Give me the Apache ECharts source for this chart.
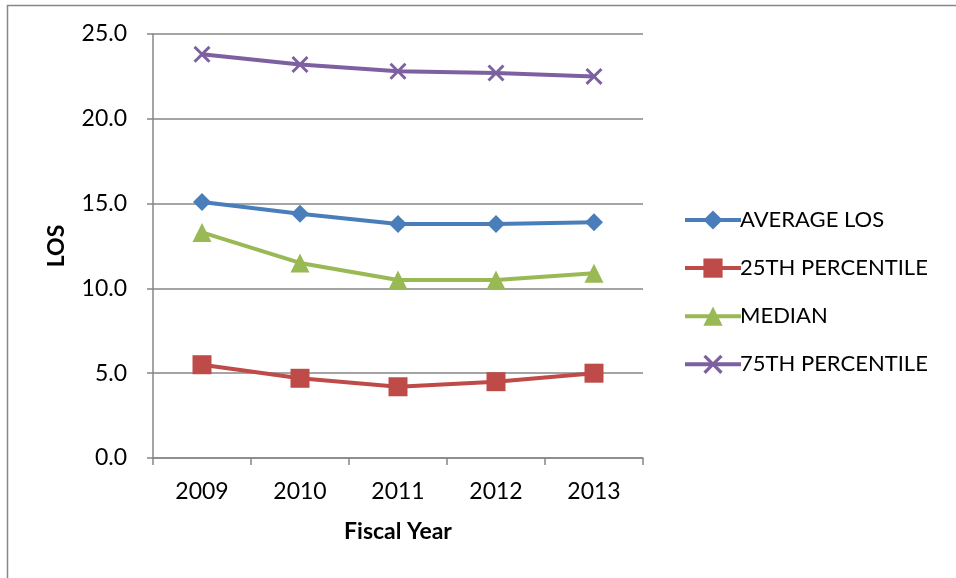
<!DOCTYPE html>
<html>
<head>
<meta charset="utf-8">
<style>
  html, body { margin: 0; padding: 0; background: #fff; }
  #chart { width: 956px; height: 578px; }
</style>
<script src="https://cdn.jsdelivr.net/npm/echarts@6/dist/echarts.min.js"></script>
</head>
<body>
<div id="chart"></div>
<script>
// Length of stay by fiscal year
const years = ['2009', '2010', '2011', '2012', '2013'];
const averageLos = [15.1, 14.4, 13.8, 13.8, 13.9];
const pct25 = [5.5, 4.7, 4.2, 4.5, 5.0];
const median = [13.3, 11.5, 10.5, 10.5, 10.9];
const pct75 = [23.8, 23.2, 22.8, 22.7, 22.5];
const yTicks = [0, 5, 10, 15, 20, 25];
const seriesNames = ['AVERAGE LOS', '25TH PERCENTILE', 'MEDIAN', '75TH PERCENTILE'];

const FONT = 'Lato, "Open Sans", sans-serif';
const FS = 23;
const GRAY = '#878787';
const crossPath = 'path://M0,1.2L1.2,0L5,3.8L8.8,0L10,1.2L6.2,5L10,8.8L8.8,10L5,6.2L1.2,10L0,8.8L3.8,5Z';

function lineSeries(name, data, color, symbol, size) {
  return {
    name: name,
    type: 'line',
    data: data,
    symbol: symbol,
    symbolSize: size,
    showSymbol: true,
    lineStyle: { color: color, width: 4 },
    itemStyle: { color: color },
    emphasis: { disabled: true },
    animation: false,
    z: 3
  };
}

const chart = echarts.init(document.getElementById('chart'));
chart.setOption({
  backgroundColor: '#fff',
  animation: false,
  grid: { left: 153, top: 34, width: 490, height: 424 },
  graphic: [{
    type: 'rect',
    shape: { x: 7.5, y: 5.5, width: 960, height: 580 },
    style: { fill: 'none', stroke: GRAY, lineWidth: 1.5 },
    silent: true,
    z: -1
  }],
  legend: {
    orient: 'vertical',
    left: 678,
    top: 204,
    itemWidth: 56,
    itemHeight: 24,
    itemGap: 26.1,
    lineStyle: { width: 4 },
    textStyle: { fontFamily: FONT, fontSize: 22, color: '#000', padding: [0, 0, 0, -6] },
    data: seriesNames.map(n => ({ name: n, lineStyle: { width: 4 } }))
  },
  xAxis: {
    type: 'category',
    data: years,
    boundaryGap: true,
    name: 'Fiscal Year',
    nameLocation: 'middle',
    nameGap: 62,
    nameTextStyle: { fontFamily: FONT, fontSize: FS, fontWeight: 'bold', color: '#000' },
    axisLine: { lineStyle: { color: GRAY, width: 1.5 } },
    axisTick: { show: true, length: 7, lineStyle: { color: GRAY, width: 1.5 } },
    axisLabel: { fontFamily: FONT, fontSize: FS, color: '#000', margin: 22 }
  },
  yAxis: {
    type: 'value',
    min: yTicks[0],
    max: yTicks[yTicks.length - 1],
    interval: 5,
    name: 'LOS',
    nameLocation: 'middle',
    nameGap: 85,
    nameRotate: 90,
    nameTextStyle: { fontFamily: FONT, fontSize: FS, fontWeight: 'bold', color: '#000' },
    axisLine: { show: true, lineStyle: { color: GRAY, width: 1.5 } },
    axisTick: { show: true, inside: false, length: 6, lineStyle: { color: GRAY, width: 1.5 } },
    splitLine: { show: true, lineStyle: { color: GRAY, width: 1.5 } },
    axisLabel: {
      fontFamily: FONT, fontSize: FS, color: '#000', margin: 26,
      formatter: v => v.toFixed(1)
    }
  },
  series: [
    lineSeries(seriesNames[0], averageLos, '#4a7ebb', 'diamond', 18),
    lineSeries(seriesNames[1], pct25, '#be4b48', 'rect', 19),
    lineSeries(seriesNames[2], median, '#98b954', 'triangle', 19),
    lineSeries(seriesNames[3], pct75, '#7d60a0', crossPath, 17)
  ]
});
</script>
</body>
</html>
